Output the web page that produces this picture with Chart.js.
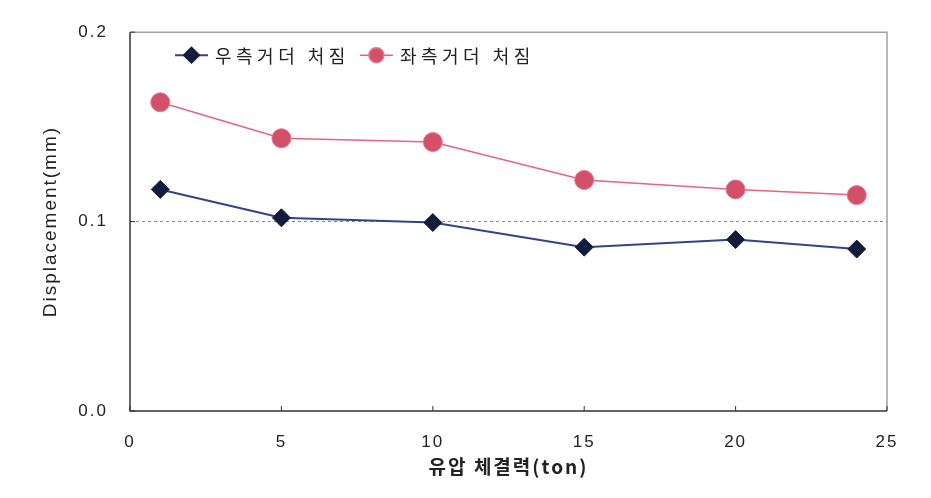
<!DOCTYPE html>
<html>
<head>
<meta charset="utf-8">
<script src="https://cdn.jsdelivr.net/npm/chart.js@4.4.1/dist/chart.umd.min.js"></script>
<style>
	body { margin: 0; background: #ffffff; }
	#wrap { width: 931px; height: 498px; }
</style>
</head>
<body>
<div id="wrap"><canvas id="myChart" width="931" height="498"></canvas></div>
<script>
// 유압 체결력(ton)
const loadTon = [1, 5, 10, 15, 20, 24];
// 처짐 (mm)
const rightGirder = [0.117, 0.102, 0.0995, 0.0865, 0.0905, 0.0855];
const leftGirder = [0.163, 0.144, 0.142, 0.122, 0.117, 0.114];
const seriesNames = ['우측거더 처짐', '좌측거더 처짐'];

const toPoints = (ys) => loadTon.map((x, i) => ({ x: x, y: ys[i] }));

// 배경 + 글자 간격
const bgPlugin = {
	id: 'bg',
	beforeDraw: function(chart) {
		const ctx = chart.ctx;
		ctx.save();
		ctx.fillStyle = '#ffffff';
		ctx.fillRect(0, 0, chart.width, chart.height);
		ctx.restore();
		ctx.letterSpacing = '2px';
	}
};

// 플롯 테두리 + 안쪽 눈금
const framePlugin = {
	id: 'frame',
	beforeDatasetsDraw: function(chart) {
		const { ctx, chartArea: a, scales } = chart;
		ctx.save();
		ctx.lineWidth = 1.5;
		ctx.strokeStyle = '#a0a0a0';
		ctx.beginPath();
		ctx.moveTo(a.left, a.top);
		ctx.lineTo(a.right, a.top);
		ctx.lineTo(a.right, a.bottom);
		ctx.stroke();

		ctx.strokeStyle = '#333333';
		ctx.beginPath();
		ctx.moveTo(a.left, a.top);
		ctx.lineTo(a.left, a.bottom);
		ctx.lineTo(a.right, a.bottom);
		ctx.stroke();

		ctx.lineWidth = 1;
		scales.x.ticks.forEach(t => {
			const px = scales.x.getPixelForValue(t.value);
			ctx.beginPath();
			ctx.moveTo(px, a.bottom);
			ctx.lineTo(px, a.bottom - 5);
			ctx.stroke();
		});
		scales.y.ticks.forEach(t => {
			const py = scales.y.getPixelForValue(t.value);
			ctx.beginPath();
			ctx.moveTo(a.left, py);
			ctx.lineTo(a.left + 5, py);
			ctx.stroke();
		});
		ctx.restore();
	}
};

// 범례 (선 + 마커)
const legendPlugin = {
	id: 'lineLegend',
	afterDatasetsDraw: function(chart) {
		const { ctx, chartArea: a } = chart;
		const y = a.top + 23;
		let x = a.left + 45;
		ctx.save();
		ctx.letterSpacing = '4.5px';
		ctx.font = '18px "Noto Sans CJK KR"';
		ctx.textBaseline = 'middle';
		ctx.textAlign = 'left';
		chart.data.datasets.forEach(ds => {
			ctx.strokeStyle = ds.borderColor;
			ctx.lineWidth = ds.borderWidth;
			ctx.beginPath();
			ctx.moveTo(x, y);
			ctx.lineTo(x + 33, y);
			ctx.stroke();
			ctx.fillStyle = ds.pointBackgroundColor;
			ctx.strokeStyle = ds.pointBorderColor;
			Chart.helpers.drawPoint(ctx, { pointStyle: ds.pointStyle, radius: 7.5, rotation: 0, borderWidth: 1 }, x + 16.5, y);
			ctx.fillStyle = '#222222';
			ctx.fillText(ds.label, x + 40, y + 1);
			x += 40 + ctx.measureText(ds.label).width + 10;
		});
		ctx.restore();
	}
};

const ctx = document.getElementById('myChart');
new Chart(ctx, {
	type: 'line',
	data: {
		datasets: [{
			label: seriesNames[0],
			data: toPoints(rightGirder),
			borderColor: '#34418f',
			borderWidth: 2,
			pointStyle: 'rectRot',
			pointRadius: 9,
			pointBackgroundColor: '#141c3e',
			pointBorderColor: '#141c3e',
			pointBorderWidth: 1,
			tension: 0
		}, {
			label: seriesNames[1],
			data: toPoints(leftGirder),
			borderColor: '#e6647c',
			borderWidth: 1.5,
			pointStyle: 'circle',
			pointRadius: 9.5,
			pointBackgroundColor: '#d4506a',
			pointBorderColor: '#e07a8c',
			pointBorderWidth: 1,
			tension: 0
		}]
	},
	plugins: [bgPlugin, framePlugin, legendPlugin],
	options: {
		responsive: false,
		animation: false,
		layout: { padding: { left: 0, right: 44, top: 30, bottom: 0 } },
		plugins: {
			legend: { display: false },
			tooltip: { enabled: false }
		},
		scales: {
			x: {
				type: 'linear',
				min: 0,
				max: 25,
				ticks: {
					stepSize: 5,
					color: '#222222',
					padding: 21,
					font: { family: '"Liberation Sans", Arial', size: 17 }
				},
				grid: { display: false, drawTicks: false },
				border: { display: false },
				title: {
					display: true,
					text: '유압 체결력(ton)',
					color: '#222222',
					font: { family: '"Noto Sans CJK KR"', size: 19, weight: 'bold' },
					padding: { top: 0, bottom: 20 }
				},
				afterFit: function(scale) { scale.height = 87; }
			},
			y: {
				min: 0,
				max: 0.2,
				ticks: {
					stepSize: 0.1,
					color: '#222222',
					padding: 22,
					font: { family: '"Liberation Sans", Arial', size: 17 },
					callback: (v) => v.toFixed(1)
				},
				grid: {
					drawTicks: false,
					color: (c) => (c.tick && Math.abs(c.tick.value - 0.1) < 1e-9) ? '#888888' : 'rgba(0,0,0,0)',
					lineWidth: 1
				},
				border: { display: false, dash: [3, 3] },
				title: {
					display: true,
					text: 'Displacement(mm)',
					color: '#222222',
					font: { family: '"Liberation Sans", Arial', size: 19 },
					padding: { top: 39, bottom: 0 }
				},
				afterFit: function(scale) { scale.width = 130; }
			}
		}
	}
});
</script>
</body>
</html>
